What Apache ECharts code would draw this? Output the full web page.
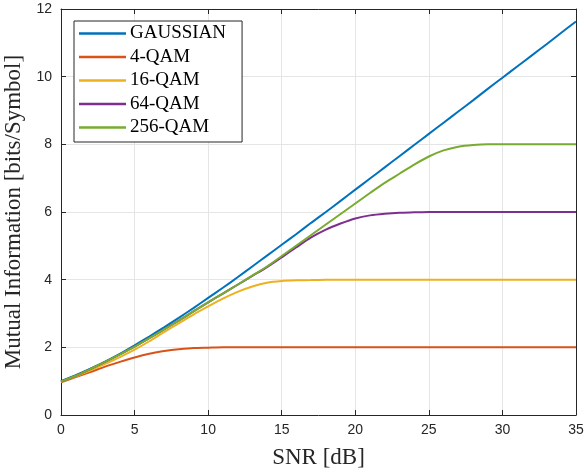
<!DOCTYPE html>
<html><head><meta charset="utf-8">
<script src="https://cdn.jsdelivr.net/npm/echarts@6/dist/echarts.min.js"></script>
<style>html,body{margin:0;padding:0;background:#fff}#c{width:584px;height:472px}</style>
</head><body><div id="c"></div>
<script>
const snr = [0,1,2,3,4,5,6,7,8,9,10,11,12,13,14,15,16,17,18,19,20,21,22,23,24,25,26,27,28,29,30,31,32,33,34,35];
const gaussian = [1.00,1.18,1.37,1.58,1.81,2.06,2.32,2.59,2.87,3.16,3.46,3.76,4.07,4.39,4.71,5.03,5.35,5.68,6.00,6.33,6.66,6.99,7.32,7.65,7.98,8.31,8.64,8.97,9.30,9.64,9.97,10.30,10.63,10.96,11.30,11.63];
const qam4 = [0.97,1.12,1.27,1.43,1.57,1.70,1.81,1.89,1.94,1.98,1.99,2.00,2.00,2.00,2.00,2.00,2.00,2.00,2.00,2.00,2.00,2.00,2.00,2.00,2.00,2.00,2.00,2.00,2.00,2.00,2.00,2.00,2.00,2.00,2.00,2.00];
const qam16 = [0.98,1.14,1.32,1.51,1.71,1.93,2.18,2.45,2.71,2.97,3.21,3.44,3.64,3.80,3.91,3.96,3.98,3.99,4.00,4.00,4.00,4.00,4.00,4.00,4.00,4.00,4.00,4.00,4.00,4.00,4.00,4.00,4.00,4.00,4.00,4.00];
const qam64 = [0.99,1.16,1.36,1.57,1.79,2.02,2.27,2.53,2.79,3.06,3.33,3.59,3.85,4.11,4.37,4.66,4.96,5.25,5.48,5.66,5.81,5.90,5.95,5.98,5.99,6.00,6.00,6.00,6.00,6.00,6.00,6.00,6.00,6.00,6.00,6.00];
const qam256 = [0.99,1.16,1.36,1.57,1.79,2.02,2.27,2.53,2.79,3.06,3.33,3.59,3.85,4.12,4.39,4.70,5.01,5.32,5.63,5.94,6.25,6.56,6.86,7.13,7.40,7.64,7.82,7.93,7.98,8.00,8.00,8.00,8.00,8.00,8.00,8.00];
const seriesNames = ['GAUSSIAN','4-QAM','16-QAM','64-QAM','256-QAM'];
const seriesData = [gaussian, qam4, qam16, qam64, qam256];
const colors = ['#0072BD','#D95319','#EDB120','#7E2F8E','#77AC30'];

const axisColor = '#262626';
const serif = '"Liberation Serif", "Times New Roman", serif';
const sans = '"Liberation Sans", Arial, sans-serif';

const chart = echarts.init(document.getElementById('c'), null, {renderer:'canvas'});
const baseX = {
  type:'value', min:0, max:35, interval:5,
  axisLine:{show:true, onZero:false, lineStyle:{color:axisColor, width:1}},
  axisTick:{show:true, inside:true, length:5, lineStyle:{color:axisColor}},
  splitLine:{show:false}
};
const baseY = {
  type:'value', min:0, max:12, interval:2,
  axisLine:{show:true, onZero:false, lineStyle:{color:axisColor, width:1}},
  axisTick:{show:true, inside:true, length:5, lineStyle:{color:axisColor}},
  splitLine:{show:false}
};
chart.setOption({
  animation:false,
  backgroundColor:'#fff',
  color: colors,
  grid:{left:61, right:8, top:9, bottom:57, containLabel:false, outerBoundsMode:'none'},
  legend:{
    orient:'vertical', left:74, top:21,
    data: seriesNames,
    icon:'rect', itemWidth:47, itemHeight:2.5, itemGap:4.5,
    backgroundColor:'#fff', borderColor:axisColor, borderWidth:1,
    padding:[3,16,5,5],
    textStyle:{fontFamily:serif, fontSize:19, color:'#000', lineHeight:19, padding:[0,0,0,-1]}
  },
  xAxis:[
    Object.assign({}, baseX, {
      position:'bottom',
      splitLine:{show:true, lineStyle:{color:'#e5e5e5', width:1}},
      axisLabel:{show:true, margin:8, fontFamily:sans, fontSize:14, color:axisColor},
      name:'SNR [dB]', nameLocation:'middle', nameGap:31,
      nameTextStyle:{fontFamily:serif, fontSize:23, color:axisColor}
    }),
    Object.assign({}, baseX, {position:'top', axisLabel:{show:false}})
  ],
  yAxis:[
    Object.assign({}, baseY, {
      position:'left',
      splitLine:{show:true, lineStyle:{color:'#e5e5e5', width:1}},
      axisLabel:{show:true, margin:9, fontFamily:sans, fontSize:14, color:axisColor},
      name:'Mutual Information [bits/Symbol]', nameLocation:'middle', nameGap:26,
      nameTextStyle:{fontFamily:serif, fontSize:23, color:axisColor}
    }),
    Object.assign({}, baseY, {position:'right', axisLabel:{show:false}})
  ],
  series: seriesNames.map((n,i)=>({
    name:n, type:'line', xAxisIndex:0, yAxisIndex:0,
    data: snr.map((x,j)=>[x, seriesData[i][j]]),
    symbol:'none', smooth:0.25,
    lineStyle:{width:2, color:colors[i]},
    itemStyle:{color:colors[i]},
    z:2+i
  }))
});
</script></body></html>
